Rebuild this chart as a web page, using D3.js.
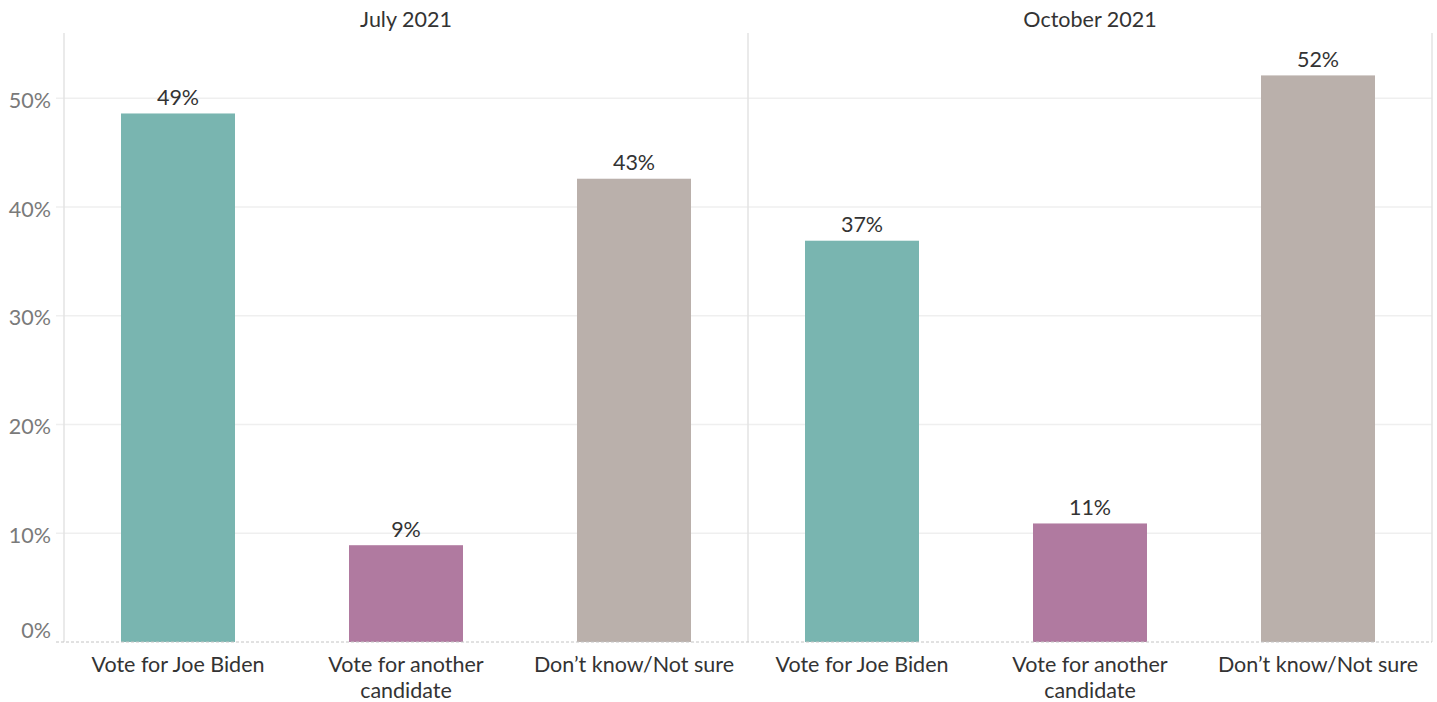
<!DOCTYPE html>
<html>
<head>
<meta charset="utf-8">
<script src="https://cdn.jsdelivr.net/npm/d3@7"></script>
<style>
  html, body { margin: 0; padding: 0; background: #fff; }
  svg { display: block; }
  text { font-family: Lato, "Noto Sans", sans-serif; }
</style>
</head>
<body>
<svg id="chart" width="1437" height="702"></svg>
<script>
// ---- data ----
const panels = ["July 2021", "October 2021"];
const categories = ["Vote for Joe Biden", "Vote for another candidate", "Don’t know/Not sure"];
const categoryLines = [["Vote for Joe Biden"], ["Vote for another", "candidate"], ["Don’t know/Not sure"]];
const julyValues = [48.6, 8.9, 42.6];
const octoberValues = [36.9, 10.9, 52.1];
const seriesValues = [julyValues, octoberValues];
const yTicks = [0, 10, 20, 30, 40, 50];
const colors = ["#79b5b0", "#b07aa0", "#bab0ab"];

const svg = d3.select("#chart");
const plotLeft = 64, plotRight = 1432, plotTop = 33, plotBottom = 642;
const FS = "21.5px";

const y = d3.scaleLinear().domain([0, 56]).range([plotBottom, plotTop]);
const xPanel = d3.scaleBand().domain(panels).range([plotLeft, plotRight]).padding(0);
const xCat = d3.scaleBand().domain(categories).range([0, xPanel.bandwidth()])
  .paddingInner(0.5).paddingOuter(0.25);

// gridlines
svg.append("g").selectAll("line").data(yTicks.filter(d => d > 0)).join("line")
  .attr("x1", plotLeft - 8).attr("x2", plotRight)
  .attr("y1", d => y(d)).attr("y2", d => y(d))
  .attr("stroke", "#efefef").attr("stroke-width", 1.5);

// vertical panel borders
const vx = [plotLeft, ...panels.map(p => xPanel(p) + xPanel.bandwidth())];
svg.append("g").selectAll("line").data(vx).join("line")
  .attr("x1", d => d).attr("x2", d => d)
  .attr("y1", plotTop).attr("y2", plotBottom)
  .attr("stroke", "#e3e3e3").attr("stroke-width", 1.5);

// y axis labels
const yAxis = d3.axisLeft(y).tickValues(yTicks).tickFormat(d => d + "%").tickSize(0).tickPadding(13);
const gy = svg.append("g").attr("transform", `translate(${plotLeft},0)`).call(yAxis);
gy.select(".domain").remove();
gy.selectAll("text").attr("fill", "#7a7a7a").style("font-size", FS)
  .style("font-family", "Lato, 'Noto Sans', sans-serif")
  .attr("dy", d => d === 0 ? "-0.22em" : "0.42em");

// panels
panels.forEach((p, pi) => {
  const g = svg.append("g").attr("transform", `translate(${xPanel(p)},0)`);
  g.append("text").attr("x", xPanel.bandwidth() / 2).attr("y", 26.5)
    .attr("text-anchor", "middle").attr("fill", "#333").style("font-size", FS).text(p);
  const vals = seriesValues[pi];
  g.selectAll("rect").data(categories).join("rect")
    .attr("x", d => xCat(d)).attr("width", xCat.bandwidth())
    .attr("y", (d, i) => y(vals[i])).attr("height", (d, i) => y(0) - y(vals[i]))
    .attr("fill", (d, i) => colors[i]);
  g.selectAll("text.val").data(categories).join("text").attr("class", "val")
    .attr("x", d => xCat(d) + xCat.bandwidth() / 2)
    .attr("y", (d, i) => y(vals[i]) - 8.5)
    .attr("text-anchor", "middle").attr("fill", "#333").style("font-size", FS)
    .text((d, i) => d3.format(".0f")(vals[i]) + "%");
  categories.forEach((c, ci) => {
    const cx = xCat(c) + xCat.bandwidth() / 2;
    const t = g.append("text").attr("x", cx).attr("y", 671.5)
      .attr("text-anchor", "middle").attr("fill", "#333").style("font-size", FS);
    categoryLines[ci].forEach((ln, li) => {
      t.append("tspan").attr("x", cx).attr("dy", li === 0 ? 0 : 26.5).text(ln);
    });
  });
});

// baseline dashed
svg.append("line").attr("x1", plotLeft - 8).attr("x2", plotRight)
  .attr("y1", y(0)).attr("y2", y(0))
  .attr("stroke", "#c4c4c4").attr("stroke-width", 1).attr("stroke-dasharray", "3,2");
</script>
</body>
</html>
